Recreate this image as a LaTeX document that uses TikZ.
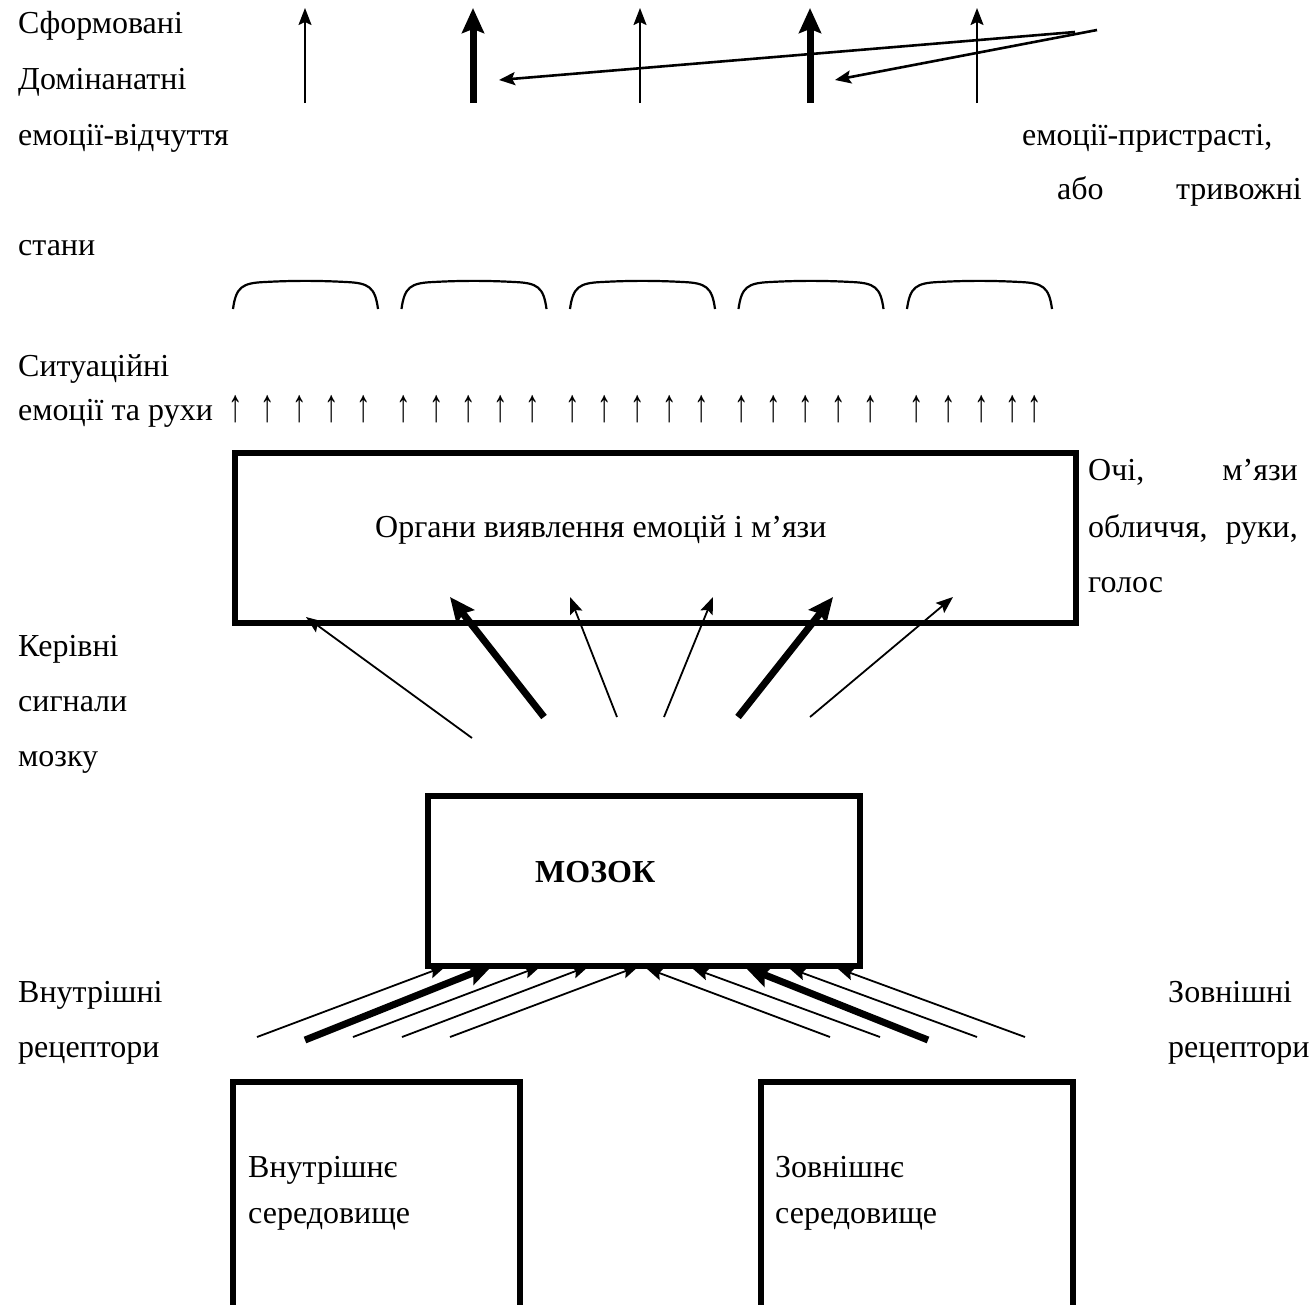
\documentclass[tikz,border=0pt]{standalone}
\usepackage{fontspec}
\setmainfont{Liberation Serif}
\usetikzlibrary{arrows.meta}
\begin{document}
\begin{tikzpicture}[x=1pt,y=-1pt,
  txt/.style={font=\fontsize{32}{38}\selectfont, inner sep=0pt, anchor=base west},
  txtr/.style={txt, anchor=base east},
  upglyph/.style={font=\fontsize{32}{38}\selectfont, inner sep=0pt, anchor=base},
  box/.style={draw, line width=5.5pt, inner sep=0pt},
  thinarr/.style={line width=1.8pt, -{Stealth[length=17pt,width=13pt,inset=3pt]}},
  midarr/.style={line width=2.6pt, -{Stealth[length=16pt,width=13pt,inset=3pt]}},
  thickarr/.style={line width=7pt, -{Stealth[length=25pt,width=22pt,inset=4pt]}},
  arcline/.style={line width=2.2pt}
]
\useasboundingbox (0,0) rectangle (1316,1304);

% ---------- top left / right labels ----------
\node[txt] (sform) at (18,33) {Сформовані};
\node[txt] (domin) at (18,89) {Домінанатні};
\node[txt] (vidch) at (18,145) {емоції-відчуття};
\node[txt] (pryst) at (1022,145) {емоції-пристрасті,};
\node[txt] (abo) at (1057,199) {або};
\node[txtr] (tryv) at (1302,199) {тривожні};
\node[txt] (stany) at (18,255) {стани};

% ---------- top vertical arrows ----------
\foreach \x/\n in {305/1,473/2,640/3,810/4,977/5}{
  \coordinate (vb\n) at (\x,103);
  \coordinate (vt\n) at (\x,8);
}
\foreach \n in {1,3,5} \draw[thinarr] (vb\n) -- (vt\n);
\foreach \n in {2,4} \draw[thickarr] (vb\n) -- (vt\n);

\coordinate (d1s) at (1075,32);
\coordinate (d1e) at (499,80);
\coordinate (d2s) at (1097,30);
\coordinate (d2e) at (835,80);
\draw[midarr] (d1s) -- (d1e);
\draw[midarr] (d2s) -- (d2e);

% ---------- arcs ----------
\foreach \a in {233,401.5,570,738.5,907}{
  \draw[arcline] (\a,309) .. controls (\a+3,287) and (\a+9,283) .. (\a+32,282)
     .. controls (\a+60,280.5) and (\a+85,280.5) .. (\a+113,282)
     .. controls (\a+136,283) and (\a+142,287) .. (\a+145,309);
}

% ---------- situational emotions ----------
\node[txt] (sytu) at (18,376) {Ситуаційні};
\node[txt] (rukhy) at (18,420) {емоції та рухи};
\foreach \x [count=\i] in {236,268,300,332,364,404,437,469,501,533,573,605,638,670,702,742,774,806,839,871,917,949,982,1013,1035}{
  \node[upglyph] (up\i) at (\x,421) {\scalebox{0.9}[1.45]{↑}};
}

% ---------- organs box ----------
\node[box, minimum width=841pt, minimum height=170pt, anchor=north west] (organs) at (232,450) {};
\node[txt] (organst) at (375,537) {Органи виявлення емоцій і м’язи};
\node[txt] (ochi) at (1088,480) {Очі,};
\node[txtr] (myazy) at (1298,480) {м’язи};
\node[txt] (oblych) at (1088,537) {обличчя,};
\node[txtr] (ruky) at (1298,537) {руки,};
\node[txt] (holos) at (1088,592) {голос};

\node[txt] (keriv) at (18,656) {Керівні};
\node[txt] (syhn) at (18,711) {сигнали};
\node[txt] (mozku) at (18,766) {мозку};

% ---------- brain signals ----------
\coordinate (s1) at (472,738);  \coordinate (e1) at (306,617);
\coordinate (s2) at (544,717);  \coordinate (e2) at (450,597);
\coordinate (s3) at (617,717);  \coordinate (e3) at (570,597);
\coordinate (s4) at (664,717);  \coordinate (e4) at (713,597);
\coordinate (s5) at (738,717);  \coordinate (e5) at (833,597);
\coordinate (s6) at (810,717);  \coordinate (e6) at (953,597);
\foreach \n in {1,3,4,6} \draw[thinarr] (s\n) -- (e\n);
\foreach \n in {2,5} \draw[thickarr] (s\n) -- (e\n);

% ---------- brain ----------
\node[box, minimum width=432pt, minimum height=170pt, anchor=north west] (brain) at (425,793) {};
\node[txt, font=\fontsize{32}{38}\selectfont\bfseries] (brainl) at (535,882) {МОЗОК};

% ---------- receptors ----------
\node[txt] (vnr1) at (18,1002) {Внутрішні};
\node[txt] (vnr2) at (18,1057) {рецептори};
\node[txt] (zvr1) at (1168,1002) {Зовнішні};
\node[txt] (zvr2) at (1168,1057) {рецептори};

\coordinate (l1s) at (257,1037); \coordinate (l1e) at (446,966);
\coordinate (l2s) at (305,1040); \coordinate (l2e) at (493,965);
\coordinate (l3s) at (353,1037); \coordinate (l3e) at (541,966);
\coordinate (l4s) at (402,1037); \coordinate (l4e) at (589,966);
\coordinate (l5s) at (450,1037); \coordinate (l5e) at (639,966);
\coordinate (r1s) at (830,1037); \coordinate (r1e) at (646,968);
\coordinate (r2s) at (880,1037); \coordinate (r2e) at (692,968);
\coordinate (r3s) at (928,1040); \coordinate (r3e) at (745,967);
\coordinate (r4s) at (977,1037); \coordinate (r4e) at (789,968);
\coordinate (r5s) at (1025,1037); \coordinate (r5e) at (837,968);
\foreach \n in {1,3,4,5} \draw[thinarr] (l\n s) -- (l\n e);
\draw[thickarr] (l2s) -- (l2e);
\foreach \n in {1,2,4,5} \draw[thinarr] (r\n s) -- (r\n e);
\draw[thickarr] (r3s) -- (r3e);

% ---------- environments (boxes cut by the page edge) ----------
\draw[line width=5.5pt] (233,1310) -- (233,1082) -- (520,1082) -- (520,1310);
\draw[line width=5.5pt] (761,1310) -- (761,1082) -- (1073,1082) -- (1073,1310);
\node[txt] (vnsr1) at (248,1177) {Внутрішнє};
\node[txt] (vnsr2) at (248,1223) {середовище};
\node[txt] (zvsr1) at (775,1177) {Зовнішнє};
\node[txt] (zvsr2) at (775,1223) {середовище};
\end{tikzpicture}
\end{document}
